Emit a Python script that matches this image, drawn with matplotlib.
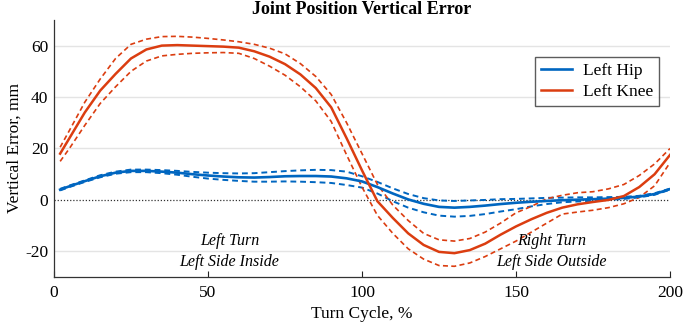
import matplotlib
matplotlib.use("Agg")
import matplotlib.pyplot as plt

cycle = [2, 5, 10, 15, 20, 25, 30, 35, 40, 45, 50, 55, 60, 65, 70, 75, 80, 85, 90, 95,
         100, 105, 110, 115, 120, 125, 130, 135, 140, 145, 150, 155, 160, 165, 170, 175,
         180, 185, 190, 195, 200]

knee_mean = [18, 24, 34, 42.5, 49, 55, 58.5, 60, 60.2, 60, 59.8, 59.6, 59.2, 57.8, 55.7,
             52.8, 48.8, 43.5, 36, 24, 11.5, -0.5, -7, -13, -17.5, -20.2, -20.7, -19.5,
             -17, -13.5, -10.3, -7.5, -5, -3, -1.7, -0.8, 0, 1.5, 5, 10, 17.5]
knee_upper = [20.5, 27, 38, 47, 55, 60.5, 62.5, 63.5, 63.6, 63.3, 62.8, 62.2, 61.5, 60.5,
              59, 56.8, 53, 48, 41, 30, 18, 6, -2, -8, -13, -15.5, -16, -15, -12.5, -9,
              -5, -2.5, 0.5, 1.8, 2.8, 3.2, 4.3, 6, 9.5, 14, 20]
knee_lower = [15, 20, 29, 37.5, 44, 50, 54, 56, 56.6, 57, 57.2, 57.3, 57, 55, 52, 48.5,
              44, 38.5, 30.5, 17.5, 5, -6, -13, -19, -23, -25.5, -25.8, -24.5, -22, -19,
              -16, -12.5, -9, -5.5, -4.7, -4, -3, -1.5, 1, 5.5, 14.5]

hip_mean = [4, 5.3, 7.3, 9.2, 10.6, 11.3, 11.3, 11, 10.6, 10, 9.5, 9.1, 8.8, 8.7, 8.9,
            9.2, 9.3, 9.3, 9.1, 8.4, 7.2, 5, 2.5, 0.2, -1.5, -2.7, -3, -2.7, -2.2, -1.6,
            -1.1, -0.7, -0.4, -0.1, 0.1, 0.3, 0.5, 0.8, 1.3, 2.3, 4.2]
hip_upper = [4.3, 5.6, 7.6, 9.6, 11.0, 11.8, 11.8, 11.6, 11.3, 10.9, 10.6, 10.4, 10.3,
             10.4, 10.8, 11.2, 11.5, 11.7, 11.6, 11.0, 9.2, 7, 4.5, 2.3, 0.7, -0.2, -0.4,
             -0.2, 0, 0.3, 0.4, 0.6, 0.8, 0.9, 1.0, 1.0, 1.1, 1.2, 1.6, 2.6, 4.4]
hip_lower = [3.7, 5.0, 7.0, 8.8, 10.2, 10.8, 10.8, 10.4, 9.8, 9.0, 8.3, 7.8, 7.4, 7.1,
             7.1, 7.2, 7.1, 6.9, 6.6, 5.8, 4.8, 2.5, -0.5, -3, -4.8, -6.1, -6.5, -6.2,
             -5.5, -4.5, -3.6, -2.5, -1.6, -0.9, -0.6, -0.3, 0, 0.4, 1.0, 2.0, 4.0]

xticks = [0, 50, 100, 150, 200]
yticks = [-20, 0, 20, 40, 60]
series_labels = ["Left Hip", "Left Knee"]
left_text = "Left Turn\nLeft Side Inside"
right_text = "Right Turn\nLeft Side Outside"

plt.rcParams['font.family'] = ['Liberation Serif', 'DejaVu Serif']

blue = '#0066C0'
red = '#DB3D10'

fig = plt.figure(figsize=(6.86, 3.26), dpi=100)
ax = fig.add_axes([0.0787, 0.150, 0.898, 0.789])

for y in yticks:
    if y != 0:
        ax.axhline(y, color='#e4e4e4', lw=1.0, zorder=0)
ax.plot([0, 200], [0, 0], color='#333333', lw=0.9, ls=(0, (1, 1.5)), zorder=1)

ax.plot(cycle, hip_upper, color=blue, lw=1.4, ls=(0, (3, 2)), zorder=2)
ax.plot(cycle, hip_lower, color=blue, lw=1.4, ls=(0, (3, 2)), zorder=2)
l1, = ax.plot(cycle, hip_mean, color=blue, lw=1.9, zorder=3, label=series_labels[0])

ax.plot(cycle, knee_upper, color=red, lw=1.2, ls=(0, (3, 2)), zorder=2)
ax.plot(cycle, knee_lower, color=red, lw=1.2, ls=(0, (3, 2)), zorder=2)
l2, = ax.plot(cycle, knee_mean, color=red, lw=1.8, zorder=3, label=series_labels[1])

ax.set_xlim(0, 200)
ax.set_ylim(-30, 70)
ax.set_xticks(xticks)
ax.set_yticks(yticks)
ax.set_yticklabels([str(v) for v in yticks])
ax.tick_params(axis='both', direction='in', length=4, width=0.8, labelsize=12.5,
               colors='#222222', labelcolor='black', pad=6)
ax.tick_params(axis='y', length=0, pad=4)
for s in ['top', 'right']:
    ax.spines[s].set_visible(False)
for s in ['left', 'bottom']:
    ax.spines[s].set_color('#333333')
    ax.spines[s].set_linewidth(0.9)

ax.set_title("Joint Position Vertical Error", fontsize=13, fontweight='bold', pad=4)
ax.set_xlabel("Turn Cycle, %", fontsize=12.5, labelpad=3)
ax.set_ylabel("Vertical Error, mm", fontsize=12.5, labelpad=2)

ax.text(57, -20, left_text, ha='center', va='center', fontsize=11.5,
        style='italic', linespacing=1.45)
ax.text(161.5, -20, right_text, ha='center', va='center', fontsize=11.5,
        style='italic', linespacing=1.45)

leg = ax.legend(handles=[l1, l2], loc='upper right', bbox_to_anchor=(0.982, 0.856),
                fontsize=12.5, frameon=True, fancybox=False, handlelength=1.8,
                borderpad=0.35, labelspacing=0.25, handletextpad=0.6, borderaxespad=0)
leg.get_frame().set_edgecolor('#333333')
leg.get_frame().set_linewidth(1.0)

fig.savefig("out.png", dpi=100)
